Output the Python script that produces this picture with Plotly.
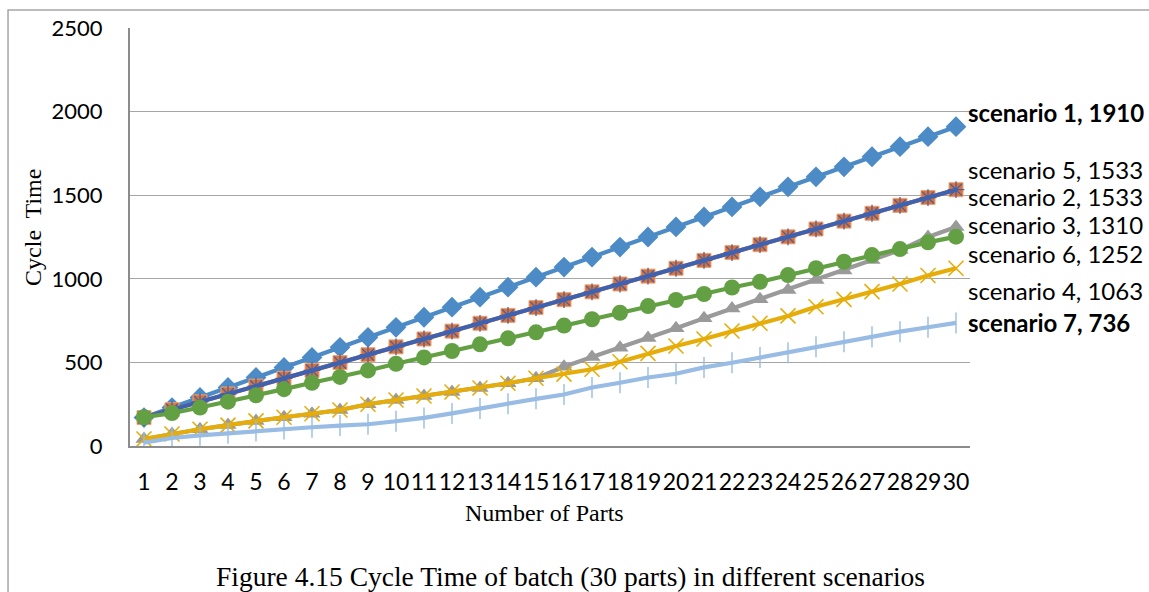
import plotly.graph_objects as go

parts = list(range(1, 31))

scenario_1 = [170, 230, 290, 350, 410, 470, 530, 590, 650, 710, 770, 830, 890, 950, 1010,
              1070, 1130, 1190, 1250, 1310, 1370, 1430, 1490, 1550, 1610, 1670, 1730, 1790, 1850, 1910]
scenario_2 = [170, 217, 264, 311, 358, 405, 452, 499, 546, 593, 640, 687, 734, 781, 828,
              875, 922, 969, 1016, 1063, 1110, 1157, 1204, 1251, 1298, 1345, 1392, 1439, 1486, 1533]
scenario_5 = [170, 217, 264, 311, 358, 405, 452, 499, 546, 593, 640, 687, 734, 781, 828,
              875, 922, 969, 1016, 1063, 1110, 1157, 1204, 1251, 1298, 1345, 1392, 1439, 1486, 1533]
scenario_3 = [42, 72, 100, 125, 150, 172, 193, 215, 250, 275, 299, 323, 347, 375, 405,
              474, 532, 588, 646, 704, 764, 822, 877, 933, 993, 1050, 1112, 1172, 1250, 1310]
scenario_4 = [42, 72, 100, 125, 150, 172, 193, 215, 250, 275, 299, 323, 347, 375, 405,
              430, 459, 504, 554, 598, 640, 688, 734, 778, 833, 877, 923, 969, 1020, 1063]
scenario_6 = [172, 197, 230, 265, 303, 340, 378, 413, 452, 492, 530, 568, 608, 644, 680,
              720, 758, 797, 837, 873, 909, 948, 982, 1022, 1063, 1102, 1142, 1178, 1218, 1252]
scenario_7 = [20, 48, 64, 77, 90, 102, 112, 122, 130, 148, 168, 195, 225, 252, 282,
              308, 350, 378, 410, 432, 470, 498, 530, 558, 594, 624, 654, 684, 710, 736]

labels = ["scenario 1, 1910", "scenario 2, 1533", "scenario 3, 1310", "scenario 4, 1063",
          "scenario 5, 1533", "scenario 6, 1252", "scenario 7, 736"]
y_ticks = [0, 500, 1000, 1500, 2000, 2500]

series = [
    (labels[0], scenario_1, dict(color="#4C8BC6"), dict(symbol="diamond", size=16, color="#4C8BC6")),
    (labels[1], scenario_2, dict(color="#E07130"), dict(symbol="square", size=14, color="#E07130",
                                                         line=dict(color="#F0A070", width=1))),
    (labels[2], scenario_3, dict(color="#9A9A9A"), dict(symbol="triangle-up", size=15, color="#9A9A9A")),
    (labels[3], scenario_4, dict(color="#E6AD0A"), dict(symbol="x-thin-open", size=15,
                                                         line=dict(color="#E6AD0A", width=1.6))),
    (labels[4], scenario_5, dict(color="#3F62B0"), dict(symbol="asterisk-open", size=14,
                                                         line=dict(color="#3F62B0", width=1.3))),
    (labels[5], scenario_6, dict(color="#62A043"), dict(symbol="circle", size=16, color="#62A043")),
    (labels[6], scenario_7, dict(color="#98BCE4"), dict(symbol="line-ns-open", size=15,
                                                         line=dict(color="#98BCE4", width=1.4))),
]

fig = go.Figure()
for name, vals, ln, mk in series:
    fig.add_trace(go.Scatter(x=parts, y=vals, mode="lines+markers", name=name,
                             line=dict(width=4.2, **ln), marker=mk, showlegend=False))

# end labels: (label, value, yshift, bold)
end_labels = [
    (labels[0], scenario_1[-1], 14, True),
    (labels[4], scenario_5[-1], 20, False),
    (labels[1], scenario_2[-1], -7, False),
    (labels[2], scenario_3[-1], 2, False),
    (labels[5], scenario_6[-1], -17, False),
    (labels[3], scenario_4[-1], -22, False),
    (labels[6], scenario_7[-1], 0, True),
]
for txt, v, ys, bold in end_labels:
    fig.add_annotation(x=parts[-1], y=v, xref="x", yref="y", text=(f"<b>{txt}</b>" if bold else txt),
                       showarrow=False, xanchor="left", yanchor="middle", xshift=10, yshift=ys,
                       font=dict(family="Lato", size=24, color="#000000"))

serif = "Liberation Serif"
fig.add_annotation(x=-0.1155, y=0.524, xref="paper", yref="paper", text="Cycle  Time", textangle=-90,
                   xanchor="center", yanchor="middle",
                   showarrow=False, font=dict(family=serif, size=24, color="#000"))
fig.add_annotation(x=0.494, y=-0.160, xref="paper", yref="paper", text="Number of Parts",
                   xanchor="center", yanchor="middle",
                   showarrow=False, font=dict(family=serif, size=24, color="#000"))
fig.add_annotation(x=0.524, y=-0.313, xref="paper", yref="paper",
                   text="Figure 4.15 Cycle Time of batch (30 parts) in different scenarios",
                   xanchor="center", yanchor="middle",
                   showarrow=False, font=dict(family=serif, size=27.5, color="#000"))

# outer chart frame
fig.add_shape(type="rect", xref="paper", yref="paper", x0=-0.1452, x1=1.3, y0=-0.5, y1=1.043,
              line=dict(color="#A6A6A6", width=1.5), layer="below")

fig.update_layout(
    width=1149, height=592,
    margin=dict(l=130, r=179, t=28, b=146),
    paper_bgcolor="white", plot_bgcolor="white",
    font=dict(family="Lato", size=22, color="#000"),
    xaxis=dict(range=[0.5, 30.5], tickmode="array", tickvals=parts, ticktext=[str(p) for p in parts],
               tickangle=0, showgrid=False, zeroline=False, showline=True, linecolor="#8C8C8C",
               linewidth=2, ticks="", ticklabelstandoff=14, tickfont=dict(family="Lato", size=23)),
    yaxis=dict(range=[0, 2500], tickmode="array", tickvals=y_ticks, showgrid=True,
               gridcolor="#A6A6A6", gridwidth=1.3, zeroline=False, showline=True,
               linecolor="#8C8C8C", linewidth=2, ticks="", ticklabelstandoff=21,
               tickfont=dict(family="Lato", size=22)),
)

fig.write_html("out.html")
